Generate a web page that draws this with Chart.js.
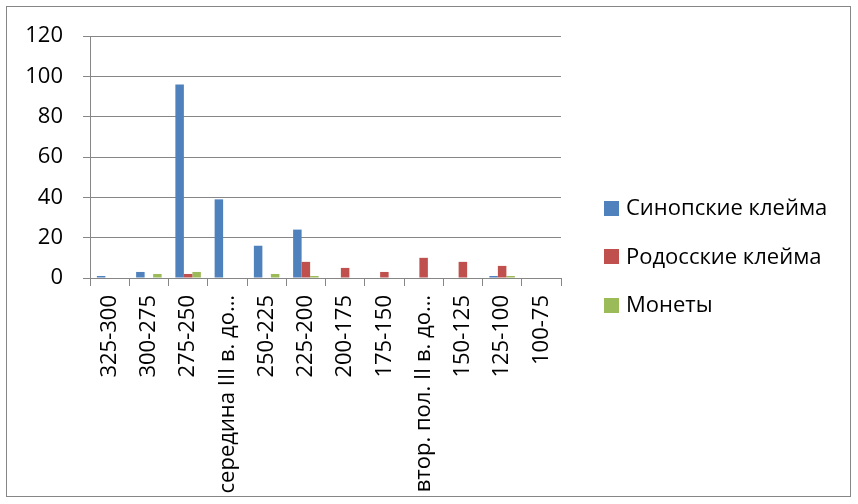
<!DOCTYPE html>
<html>
<head>
<meta charset="utf-8">
<script src="https://cdn.jsdelivr.net/npm/chart.js@4/dist/chart.umd.min.js"></script>
<style>
    html, body { margin: 0; padding: 0; background: #ffffff; }
    #wrap { width: 858px; height: 504px; }
</style>
</head>
<body>
<div id="wrap"><canvas id="stampsChart" width="858" height="504"></canvas></div>
<script>
const categories = [
    "325-300", "300-275", "275-250", "середина III в. до…", "250-225", "225-200",
    "200-175", "175-150", "втор. пол. II в. до…", "150-125", "125-100", "100-75"
];
const sinopValues = [1, 3, 96, 39, 16, 24, 0, 0, 0, 0, 1, 0];
const rhodesValues = [0, 0, 2, 0, 0, 8, 5, 3, 10, 8, 6, 0];
const coinValues = [0, 2, 3, 0, 2, 1, 0, 0, 0, 0, 1, 0];
const yTicks = [0, 20, 40, 60, 80, 100, 120];

const seriesNames = ["Синопские клейма", "Родосские клейма", "Монеты"];
const seriesColors = ["#4f81bd", "#c0504d", "#9bbb59"];

const FONT = "'Open Sans', sans-serif";
const GRID = "#868686";

// frame round the whole chart
const framePlugin = {
    id: "frame",
    beforeDraw(chart) {
        const ctx = chart.ctx;
        ctx.save();
        ctx.fillStyle = "#ffffff";
        ctx.fillRect(0, 0, chart.width, chart.height);
        ctx.strokeStyle = GRID;
        ctx.lineWidth = 1;
        ctx.strokeRect(6.5, 6.5, 844, 490);
        ctx.restore();
    }
};

// legend on the right, Excel style
const sideLegend = {
    id: "sideLegend",
    afterDraw(chart) {
        const ctx = chart.ctx;
        ctx.save();
        ctx.font = "22px " + FONT;
        ctx.textBaseline = "middle";
        ctx.textAlign = "left";
        chart.data.datasets.forEach((ds, i) => {
            const y = 208 + i * 48.5;
            ctx.fillStyle = ds.backgroundColor;
            ctx.fillRect(604, Math.round(y - 7.5), 15, 15);
            ctx.fillStyle = "#000000";
            ctx.fillText(ds.label, 626, y + 1);
        });
        ctx.restore();
    }
};

new Chart(document.getElementById("stampsChart").getContext("2d"), {
    type: "bar",
    data: {
        labels: categories,
        datasets: [
            { label: seriesNames[0], data: sinopValues, backgroundColor: seriesColors[0] },
            { label: seriesNames[1], data: rhodesValues, backgroundColor: seriesColors[1] },
            { label: seriesNames[2], data: coinValues, backgroundColor: seriesColors[2] }
        ]
    },
    options: {
        responsive: false,
        animation: false,
        layout: {
            padding: { left: 0, right: 297, top: 36, bottom: 0 }
        },
        datasets: {
            bar: {
                categoryPercentage: 0.65,
                barPercentage: 1,
                borderWidth: 0
            }
        },
        scales: {
            x: {
                afterFit(scale) { scale.height = 226; },
                grid: {
                    display: true,
                    drawOnChartArea: false,
                    color: GRID,
                    tickLength: 8,
                    offset: true
                },
                border: { display: true, color: GRID, width: 1 },
                ticks: {
                    autoSkip: false,
                    minRotation: 90,
                    maxRotation: 90,
                    padding: 9,
                    color: "#000000",
                    font: { family: FONT, size: 22 }
                }
            },
            y: {
                min: 0,
                max: 120,
                afterFit(scale) { scale.width = 90; },
                afterBuildTicks(scale) {
                    scale.ticks = yTicks.map(v => ({ value: v }));
                },
                grid: {
                    color: GRID,
                    tickLength: 7
                },
                border: { display: true, color: GRID, width: 1 },
                ticks: {
                    padding: 20,
                    color: "#000000",
                    font: { family: FONT, size: 22 }
                }
            }
        },
        plugins: {
            legend: { display: false },
            tooltip: { enabled: false }
        }
    },
    plugins: [framePlugin, sideLegend]
});
</script>
</body>
</html>
